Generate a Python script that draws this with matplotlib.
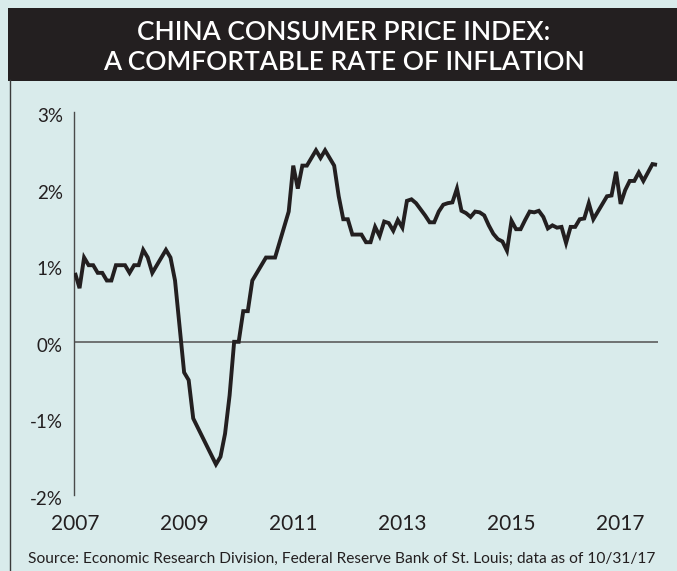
import numpy as np
import matplotlib
matplotlib.use("Agg")
import matplotlib.pyplot as plt
import matplotlib.transforms as mtransforms
from matplotlib.patches import Rectangle
from matplotlib.lines import Line2D

# China CPI, year-over-year %, monthly Jan 2007 - Sep 2017
cpi_2007 = [0.9, 0.7, 1.1, 1.0, 1.0, 0.9, 0.9, 0.8, 0.8, 1.0, 1.0, 1.0]
cpi_2008 = [0.9, 1.0, 1.0, 1.2, 1.1, 0.9, 1.0, 1.1, 1.2, 1.1, 0.8, 0.2]
cpi_2009 = [-0.4, -0.5, -1.0, -1.12, -1.24, -1.36, -1.48, -1.6, -1.5, -1.2, -0.7, 0.0]
cpi_2010 = [0.0, 0.4, 0.4, 0.8, 0.9, 1.0, 1.1, 1.1, 1.1, 1.3, 1.5, 1.7]
cpi_2011 = [2.3, 2.0, 2.3, 2.3, 2.4, 2.5, 2.4, 2.5, 2.4, 2.3, 1.9, 1.6]
cpi_2012 = [1.6, 1.4, 1.4, 1.4, 1.3, 1.3, 1.5, 1.38, 1.57, 1.55, 1.45, 1.59]
cpi_2013 = [1.49, 1.84, 1.86, 1.81, 1.73, 1.65, 1.56, 1.56, 1.7, 1.79, 1.81, 1.82]
cpi_2014 = [2.0, 1.71, 1.68, 1.63, 1.70, 1.69, 1.65, 1.52, 1.41, 1.34, 1.31, 1.19]
cpi_2015 = [1.58, 1.47, 1.47, 1.59, 1.70, 1.69, 1.71, 1.63, 1.48, 1.52, 1.49, 1.50]
cpi_2016 = [1.29, 1.50, 1.50, 1.60, 1.61, 1.81, 1.60, 1.70, 1.80, 1.90, 1.91, 2.22]
cpi_2017 = [1.80, 1.98, 2.10, 2.10, 2.21, 2.10, 2.21, 2.32, 2.31]

year_ticks = [2007, 2009, 2011, 2013, 2015, 2017]
pct_ticks = [-2, -1, 0, 1, 2, 3]
pct_labels = ["-2%", "-1%", "0%", "1%", "2%", "3%"]

title_lines = ["CHINA CONSUMER PRICE INDEX:", "A COMFORTABLE RATE OF INFLATION"]
source = ("Source: Economic Research Division, Federal Reserve Bank of St. Louis; "
          "data as of 10/31/17")

BG = "#d9ebeb"
INK = "#231f20"
FONT = "Lato"

cpi = np.array(cpi_2007 + cpi_2008 + cpi_2009 + cpi_2010 + cpi_2011 + cpi_2012
               + cpi_2013 + cpi_2014 + cpi_2015 + cpi_2016 + cpi_2017)
dates = 2007 + np.arange(len(cpi)) / 12.0

fig = plt.figure(figsize=(6.77, 5.71), dpi=100, facecolor=BG)

# black title band and left frame rule
fig.patches.append(Rectangle((7.5 / 677, 1 - 80.7 / 571), 1.0, 72.7 / 571,
                             transform=fig.transFigure, facecolor=INK,
                             edgecolor="none", zorder=0))
fig.lines.append(Line2D([10 / 677, 10 / 677], [0, 1 - 80 / 571],
                        transform=fig.transFigure, color="#3a3a3a", lw=1.0))

fig.text(0.508, 1 - 39.5 / 571, title_lines[0], ha="center", va="baseline",
         color="white", fontsize=19, fontweight="semibold", family=FONT)
fig.text(0.508, 1 - 70.5 / 571, title_lines[1], ha="center", va="baseline",
         color="white", fontsize=19, fontweight="semibold", family=FONT)

ax = fig.add_axes([74 / 677, 1 - 495 / 571, (658 - 74) / 677, (495 - 112) / 571])
ax.set_facecolor("none")

ax.axhline(0, color="#5d5d5d", lw=1.2, zorder=1)
ax.plot(dates, cpi, color=INK, lw=2.8, solid_joinstyle="miter",
        solid_capstyle="butt", zorder=3)

ax.set_xlim(2007 - 1 / 54.56, dates[-1] + 1 / 54.56)
ax.set_ylim(-2, 3)

for side in ("top", "right", "bottom"):
    ax.spines[side].set_visible(False)
ax.spines["left"].set_color("#4a4a4a")
ax.spines["left"].set_linewidth(1.0)

ax.set_xticks(year_ticks)
ax.set_xticklabels([str(y) for y in year_ticks], fontsize=15, color=INK,
                   family=FONT)
ax.set_yticks(pct_ticks)
ax.set_yticklabels(pct_labels, fontsize=13.5, color=INK, family=FONT)
ax.tick_params(axis="x", length=0, pad=14)
ax.tick_params(axis="y", length=0, pad=8)

# labels in the original sit a little below their gridline value
shift = mtransforms.ScaledTranslation(0, -0.03, fig.dpi_scale_trans)
for lbl in ax.get_yticklabels():
    lbl.set_transform(lbl.get_transform() + shift)

fig.text(0.505, 1 - 563 / 571, source, ha="center", va="baseline",
         color=INK, fontsize=11.2, family=FONT)

fig.savefig("out.png", dpi=100, facecolor=BG)
